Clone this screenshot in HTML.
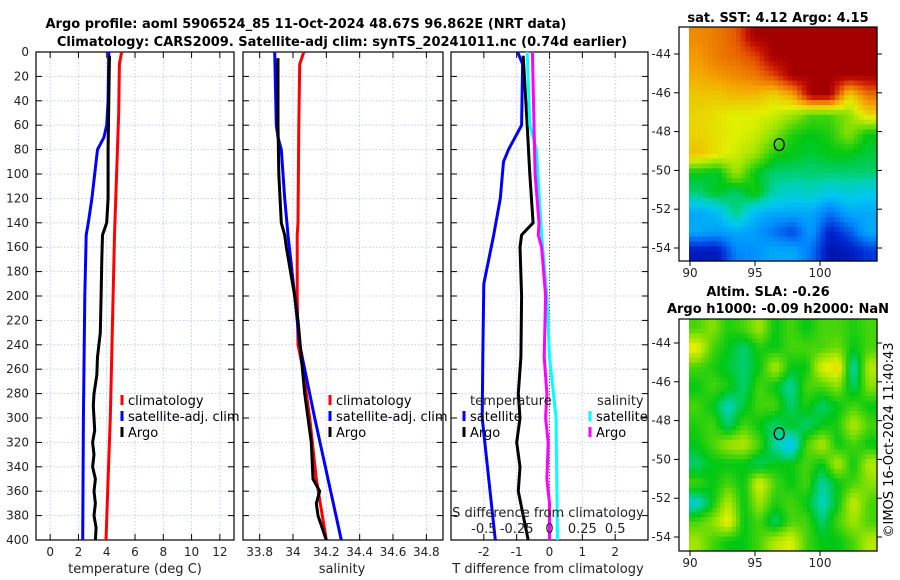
<!DOCTYPE html>
<html><head><meta charset="utf-8"><style>
body{margin:0;background:#fff;}
svg{display:block;font-family:"DejaVu Sans","Liberation Sans",sans-serif;}
</style></head><body>
<svg id="fig" width="900" height="580" viewBox="0 0 900 580">
<text x="306" y="28" font-size="13" font-weight="bold" text-anchor="middle">Argo profile: aoml 5906524_85 11-Oct-2024 48.67S 96.862E (NRT data)</text>
<text x="342" y="46" font-size="13" font-weight="bold" text-anchor="middle">Climatology: CARS2009. Satellite-adj clim: synTS_20241011.nc (0.74d earlier)</text>
<text x="778" y="22" font-size="13" font-weight="bold" text-anchor="middle">sat. SST: 4.12 Argo: 4.15</text>
<text x="768" y="296" font-size="13" font-weight="bold" text-anchor="middle">Altim. SLA: -0.26</text>
<text x="778" y="313" font-size="13" font-weight="bold" text-anchor="middle">Argo h1000: -0.09 h2000: NaN</text>
<text transform="translate(893,440) rotate(-90)" font-size="13" text-anchor="middle">©IMOS 16-Oct-2024 11:40:43</text>
<g id="g"></g>
</svg>
<script>
// ---- data ----
const depthTicks=[0,20,40,60,80,100,120,140,160,180,200,220,240,260,280,300,320,340,360,380,400];
const tTicks=[0,2,4,6,8,10,12];
const sTicks=[33.8,34,34.2,34.4,34.6,34.8];
const dTicks=[-2,-1,0,1,2];
const sdTicks=[-0.5,-0.25,0,0.25,0.5];
const tClimDepth=[0,10,50,100,150,200,250,300,350,400];
const tClim=[5.05,4.9,4.85,4.7,4.55,4.45,4.35,4.25,4.1,3.95];
const tSatDepth=[0,40,60,70,80,100,120,140,150,200,300,400];
const tSat=[4.15,4.1,4.0,3.8,3.35,3.15,2.95,2.7,2.55,2.45,2.35,2.3];
const argoDepth=[3,40,80,120,140,150,170,200,230,250,265,280,290,300,310,320,330,340,350,360,370,380,390,400];
const tArgo=[4.2,4.15,4.1,4.1,4.0,3.7,3.65,3.6,3.55,3.35,3.3,3.1,3.05,3.1,3.15,3.0,3.1,3.0,3.2,3.1,3.2,3.1,3.25,3.2];
const sClimDepth=[0,10,60,140,150,200,240,260,300,350,400];
const sClim=[34.065,34.04,34.035,34.03,34.025,34.025,34.03,34.06,34.1,34.14,34.2];
const sSatDepth=[0,60,70,80,120,150,200,240,300,400];
const sSat=[33.89,33.9,33.91,33.93,33.95,33.97,34.01,34.04,34.13,34.29];
const sArgoDepth=[5,60,100,140,150,160,200,220,250,280,300,320,350,360,370,380,400];
const sArgo=[33.91,33.91,33.915,33.93,33.95,33.96,34.01,34.03,34.05,34.07,34.09,34.11,34.12,34.16,34.14,34.15,34.2];
const dSatTDepth=[0,10,60,80,90,120,150,190,250,300,400];
const dSatT=[-0.97,-0.82,-0.85,-1.25,-1.4,-1.5,-1.7,-2.0,-2.03,-2.05,-1.65];
const dArgoTDepth=[3,60,100,140,150,160,200,250,280,300,320,340,360,380,400];
const dArgoT=[-0.8,-0.68,-0.6,-0.5,-0.85,-0.9,-0.85,-0.87,-0.95,-0.9,-1.0,-0.9,-0.95,-0.8,-0.65];
const dSatSDepth=[0,60,80,150,200,250,300,400];
const dSatS=[-0.17,-0.15,-0.1,-0.06,-0.02,0,0.05,0.06];
const dArgoSDepth=[0,100,140,150,160,200,250,280,300,320,350,370,400];
const dArgoS=[-0.13,-0.11,-0.08,-0.085,-0.06,-0.03,-0.04,-0.02,-0.03,-0.01,-0.02,0,0];
const lonTicks=[90,95,100];
const latTicks=[-44,-46,-48,-50,-52,-54];
const sstGrid=[
[0.82,0.84,0.88,1,1,1,1,1,1,1],
[0.8,0.84,0.86,0.9,1,1,1,1,1,1],
[0.78,0.8,0.82,0.84,0.9,1,1,1,1,1],
[0.74,0.74,0.76,0.76,0.72,0.78,1,1,0.72,0.85],
[0.72,0.7,0.68,0.68,0.66,0.62,0.55,0.55,0.6,0.72],
[0.72,0.7,0.68,0.66,0.6,0.52,0.5,0.52,0.6,0.5],
[0.75,0.7,0.66,0.62,0.52,0.5,0.48,0.5,0.5,0.48],
[0.5,0.48,0.62,0.5,0.45,0.45,0.45,0.45,0.45,0.45],
[0.45,0.5,0.45,0.52,0.42,0.38,0.4,0.36,0.38,0.36],
[0.3,0.33,0.45,0.33,0.3,0.3,0.3,0.22,0.3,0.3],
[0.3,0.28,0.3,0.28,0.22,0.16,0.28,0.1,0.18,0.3],
[0.08,0.08,0.24,0.26,0.3,0.3,0.22,0.06,0.08,0.14]];
const slaGrid=[
[0.55,0.6,0.52,0.55,0.62,0.5,0.55,0.5,0.55,0.55,0.52,0.55],
[0.7,0.55,0.5,0.45,0.52,0.5,0.55,0.55,0.55,0.58,0.5,0.55],
[0.55,0.52,0.48,0.45,0.5,0.64,0.5,0.5,0.68,0.72,0.4,0.64],
[0.5,0.55,0.52,0.45,0.55,0.5,0.42,0.55,0.55,0.6,0.45,0.6],
[0.55,0.5,0.4,0.48,0.55,0.55,0.45,0.52,0.45,0.5,0.55,0.5],
[0.52,0.55,0.45,0.55,0.5,0.45,0.5,0.45,0.5,0.52,0.64,0.55],
[0.5,0.55,0.62,0.64,0.55,0.42,0.33,0.55,0.64,0.5,0.55,0.5],
[0.45,0.5,0.5,0.5,0.45,0.5,0.5,0.55,0.5,0.64,0.5,0.64],
[0.55,0.5,0.55,0.5,0.68,0.55,0.5,0.55,0.42,0.5,0.55,0.6],
[0.38,0.5,0.64,0.5,0.62,0.52,0.55,0.5,0.4,0.5,0.66,0.55],
[0.55,0.6,0.7,0.5,0.55,0.45,0.55,0.55,0.45,0.55,0.62,0.55],
[0.62,0.55,0.5,0.5,0.55,0.64,0.68,0.55,0.5,0.5,0.55,0.64]];

// ---- helpers ----
const NS="http://www.w3.org/2000/svg";
const root=document.getElementById('g');
function mk(tag,attrs,parent){const e=document.createElementNS(NS,tag);for(const k in attrs)e.setAttribute(k,attrs[k]);(parent||root).appendChild(e);return e;}
function lin(d0,d1,r0,r1){return v=>r0+(v-d0)*(r1-r0)/(d1-d0);}
const Y=lin(0,400,52,540);

function panel(name,x0,x1,xs,ticks,fmt){
  const gr=mk('g',{});
  
  
  ticks.forEach(t=>{const x=xs(t);
    const l=mk('line',{x1:x,x2:x,y1:52,y2:540,stroke:'#b8c0e8','stroke-width':0.8,'stroke-dasharray':'1.5,2'},gr);
    
    mk('line',{x1:x,x2:x,y1:540,y2:534,stroke:'#000'},gr);mk('line',{x1:x,x2:x,y1:52,y2:58,stroke:'#000'},gr);
    const tx=mk('text',{x:x,y:556,'font-size':12,'text-anchor':'middle',fill:'#222'},gr);tx.textContent=fmt(t);
    
  });
  depthTicks.forEach(d=>{const y=Y(d);
    const l=mk('line',{x1:x0,x2:x1,y1:y,y2:y,stroke:'#b8c0e8','stroke-width':0.8,'stroke-dasharray':'1.5,2'},gr);
    
    mk('line',{x1:x0,x2:x0+6,y1:y,y2:y,stroke:'#000'},gr);mk('line',{x1:x1-6,x2:x1,y1:y,y2:y,stroke:'#000'},gr);
  });
  mk('rect',{x:x0,y:52,width:x1-x0,height:488,fill:'none',stroke:'#000','stroke-width':1.2},gr);
  return gr;
}
function line(gr,name,depths,vals,xs,color,w){
  const pts=depths.map((d,i)=>xs(vals[i]).toFixed(1)+','+Y(d).toFixed(1)).join(' ');
  const p=mk('polyline',{points:pts,fill:'none',stroke:color,'stroke-width':w||3,'stroke-linejoin':'round'},gr);
  
  
}
function legend(gr,x,y,color,label,name){
  mk('line',{x1:x,x2:x,y1:y-10,y2:y,stroke:color,'stroke-width':3},gr);
  const t=mk('text',{x:x+6,y:y,'font-size':13},gr);t.textContent=label;
  
  
}
function txt(x,y,s,name,anchor,size){const t=mk('text',{x:x,y:y,'font-size':size||13,'text-anchor':anchor||'start',fill:'#222'});t.textContent=s;
  return t;}

depthTicks.forEach(d=>{txt(29,Y(d)+4,String(d),'depth-tick-label','end',12);});

// panel 1 temperature
const xT=lin(-1,13,36,234);
const p1=panel('temperature-panel',36,234,xT,tTicks,String);
line(p1,'temp-climatology-line',tClimDepth,tClim,xT,'#ff0000');
line(p1,'temp-satellite-line',tSatDepth,tSat,xT,'#0000ff');
line(p1,'temp-argo-line',argoDepth,tArgo,xT,'#000000');
legend(p1,122,405,'#ff0000','climatology','legend-climatology');
legend(p1,122,421,'#0000ff','satellite-adj. clim','legend-satellite');
legend(p1,122,437,'#000','Argo','legend-argo');
txt(135,573,'temperature (deg C)','temperature-axis-title','middle');

// panel 2 salinity
const xS=lin(33.7,34.9,243,443);
const p2=panel('salinity-panel',243,443,xS,sTicks,String);
line(p2,'sal-climatology-line',sClimDepth,sClim,xS,'#ff0000');
line(p2,'sal-satellite-line',sSatDepth,sSat,xS,'#0000ff');
line(p2,'sal-argo-line',sArgoDepth,sArgo,xS,'#000000');
legend(p2,330,405,'#ff0000','climatology','legend-climatology');
legend(p2,330,421,'#0000ff','satellite-adj. clim','legend-satellite');
legend(p2,330,437,'#000','Argo','legend-argo');
txt(342,573,'salinity','salinity-axis-title','middle');

// panel 3 differences
const xD=lin(-3,3,451,648);
const xSD=lin(-0.75,0.75,451,648);
const p3=panel('difference-panel',451,648,xD,dTicks,String);
mk('line',{x1:xD(0),x2:xD(0),y1:52,y2:540,stroke:'#555','stroke-dasharray':'1,2'},p3);
line(p3,'tdiff-satellite-line',dSatTDepth,dSatT,xD,'#0000ff');
line(p3,'tdiff-argo-line',dArgoTDepth,dArgoT,xD,'#000000');
line(p3,'sdiff-satellite-line',dSatSDepth,dSatS,xSD,'#00ffff');
line(p3,'sdiff-argo-line',dArgoSDepth,dArgoS,xSD,'#ff00ff');
txt(470,405,'temperature','legend-temperature-header');
legend(p3,464,421,'#0000ff','satellite','legend-t-satellite');
legend(p3,464,437,'#000','Argo','legend-t-argo');
txt(597,405,'salinity','legend-salinity-header');
legend(p3,590,421,'#00ffff','satellite','legend-s-satellite');
legend(p3,590,437,'#ff00ff','Argo','legend-s-argo');
txt(548,517,'S difference from climatology','s-diff-axis-title','middle');
sdTicks.forEach(v=>txt(xSD(v),533,String(v),'s-diff-tick-label','middle'));
txt(548,573,'T difference from climatology','t-diff-axis-title','middle');

// maps
const cmapStops=[[0,0,0,140],[0.12,0,40,210],[0.25,0,140,255],[0.35,0,200,240],[0.42,0,210,170],[0.5,0,200,20],[0.6,140,225,0],[0.68,225,240,0],[0.78,245,170,0],[0.88,230,90,0],[0.95,200,20,0],[1,165,0,0]];
function cmap(v){v=Math.max(0,Math.min(1,v));
  for(let i=1;i<cmapStops.length;i++){const a=cmapStops[i-1],b=cmapStops[i];
    if(v<=b[0]){const f=(v-a[0])/(b[0]-a[0]);
      return 'rgb('+[1,2,3].map(k=>Math.round(a[k]+(b[k]-a[k])*f)).join(',')+')';}}
  return 'rgb(165,0,0)';}
function sample(grid,fy,fx){const R=grid.length,C=grid[0].length;
  fy=Math.max(0,Math.min(R-1,fy));fx=Math.max(0,Math.min(C-1,fx));
  const i=Math.floor(fy),j=Math.floor(fx),i2=Math.min(R-1,i+1),j2=Math.min(C-1,j+1),a=fy-i,b=fx-j;
  return grid[i][j]*(1-a)*(1-b)+grid[i2][j]*a*(1-b)+grid[i][j2]*(1-a)*b+grid[i2][j2]*a*b;}
function map(name,top,bottom,grid,latTopPx){
  const gr=mk('g',{});
  
  
  const xL=lin(90,100,690,820);
  const yL=lin(-44,-54,latTopPx,latTopPx+194);
  const rows=grid.length,cols=grid[0].length,up=4;
  const R=rows*up,C=cols*up;
  const cw=(877-689)/C,ch=(bottom-top)/R;
  for(let i=0;i<R;i++)for(let j=0;j<C;j++){
    const v=sample(grid,(i+0.5)/up-0.5,(j+0.5)/up-0.5);
    const c=mk('rect',{x:(689+j*cw).toFixed(2),y:(top+i*ch).toFixed(2),width:(cw+0.6).toFixed(2),height:(ch+0.6).toFixed(2),fill:cmap(v)},gr);
    
    
  }
  mk('rect',{x:679,y:top,width:198,height:bottom-top,fill:'none',stroke:'#000','stroke-width':1.2},gr);
  lonTicks.forEach(l=>{const x=xL(l);mk('line',{x1:x,x2:x,y1:bottom,y2:bottom+5,stroke:'#000'},gr);
    const t=mk('text',{x:x,y:bottom+16,'font-size':12,'text-anchor':'middle',fill:'#222'},gr);t.textContent=String(l);
    });
  latTicks.forEach(l=>{const y=yL(l);mk('line',{x1:674,x2:679,y1:y,y2:y,stroke:'#000'},gr);mk('line',{x1:877,x2:882,y1:y,y2:y,stroke:'#000'},gr);
    const t=mk('text',{x:671,y:y+4,'font-size':12,'text-anchor':'end',fill:'#222'},gr);t.textContent=String(l);
    });
  const m=mk('ellipse',{cx:xL(96.862),cy:yL(-48.67),rx:5,ry:6,fill:'none',stroke:'#000','stroke-width':1.3},gr);
  
  
}
map('sst-map',27,261,sstGrid,54);
map('sla-map',319,551,slaGrid,343);
</script>
</body></html>
